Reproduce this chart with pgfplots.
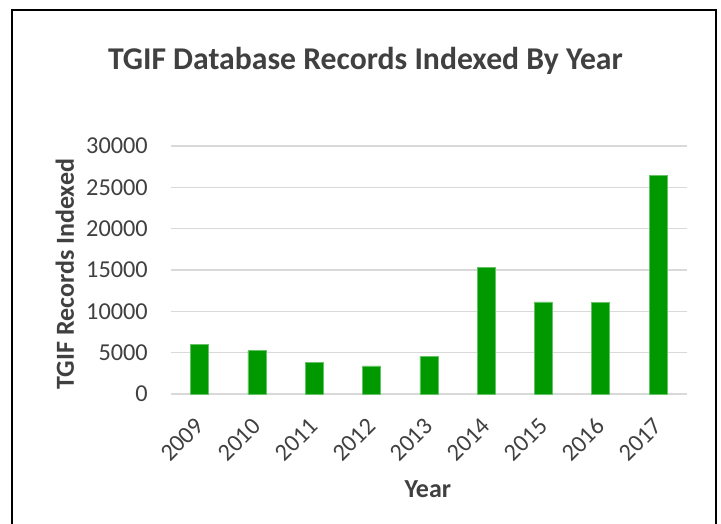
\documentclass[border=0pt]{standalone}
\usepackage{pgfplots}
\pgfplotsset{compat=1.18}
\usepackage{fontspec}
\setmainfont{Carlito}
\definecolor{barG}{HTML}{009900}
\definecolor{txt}{HTML}{404040}
\definecolor{gridc}{HTML}{D9D9D9}
\begin{document}
\begin{tikzpicture}
\useasboundingbox (-171pt,-129pt) rectangle (550pt,394pt);
\begin{axis}[
  at={(0pt,0pt)}, anchor=south west,
  scale only axis, width=515.7pt, height=248pt,
  xmin=-0.5, xmax=8.5, ymin=0, ymax=30000,
  ybar, bar width=18pt,
  xtick={0,...,8},
  xticklabels={2009,2010,2011,2012,2013,2014,2015,2016,2017},
  ytick={0,5000,10000,15000,20000,25000,30000},
  scaled y ticks=false,
  /pgf/number format/assume math mode=true,
  /pgf/number format/1000 sep={},
  ymajorgrids, grid style={draw=gridc, line width=1.5pt},
  axis line style={draw=none},
  major tick length=0pt,
  tick label style={font=\fontsize{24.3}{29}\selectfont, text=txt},
  yticklabel style={anchor=east, inner sep=0pt, xshift=-23pt},
  xticklabel style={rotate=45, anchor=east, inner sep=0pt},
  xticklabel shift=28pt,
  title={TGIF Database Records Indexed By Year},
  title style={at={(axis description cs:0.377,1.285)}, anchor=base, font=\fontsize{31.7}{38}\selectfont\bfseries, text=txt},
  xlabel={Year},
  xlabel style={at={(axis description cs:0.498,-0.4165)}, anchor=base, font=\fontsize{26}{31}\selectfont\bfseries, text=txt},
  ylabel={TGIF Records Indexed},
  ylabel style={at={(axis description cs:-0.2056,0.484)}, anchor=center, rotate=0, font=\fontsize{26}{31}\selectfont\bfseries, text=txt},
]
\addplot[fill=barG, draw=barG!60!white, line width=0.6pt] coordinates {
(0,6010) (1,5240) (2,3830) (3,3390) (4,4560) (5,15360) (6,11130) (7,11090) (8,26410)};
\end{axis}
\draw[line width=2pt, line cap=rect] (-159pt,-131pt) -- (-159pt,384pt) -- (545pt,384pt) -- (545pt,-131pt);
\end{tikzpicture}
\end{document}
